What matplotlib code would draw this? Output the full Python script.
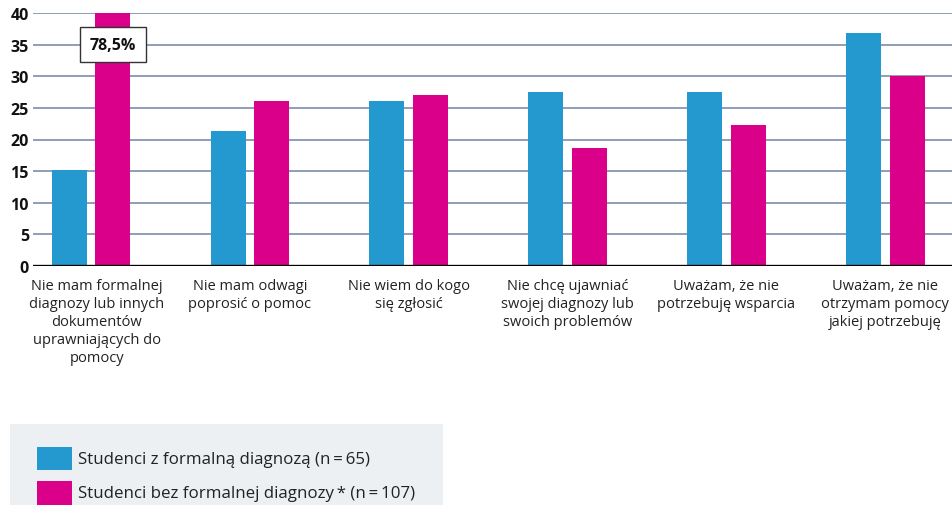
import matplotlib
matplotlib.use("Agg")
import matplotlib.pyplot as plt
import matplotlib.transforms as mtransforms
import numpy as np
from matplotlib.patches import Rectangle

plt.rcParams['font.family'] = ['Open Sans', 'DejaVu Sans']

categories = [
    "Nie mam formalnej\ndiagnozy lub innych\ndokumentów\nuprawniających do\npomocy",
    "Nie mam odwagi\npoprosić o pomoc",
    "Nie wiem do kogo\nsię zgłosić",
    "Nie chcę ujawniać\nswojej diagnozy lub\nswoich problemów",
    "Uważam, że nie\npotrzebuję wsparcia",
    "Uważam, że nie\notrzymam pomocy\njakiej potrzebuję",
]
series_names = ["Studenci z formalną diagnozą (n\u2009=\u200965)",
                "Studenci bez formalnej diagnozy\u2009* (n\u2009=\u2009107)"]
with_diag = [15.2, 21.4, 26.1, 27.6, 27.6, 36.9]
without_diag = [78.5, 26.1, 27.1, 18.7, 22.3, 30.0]
yticks = [0, 5, 10, 15, 20, 25, 30, 35, 40]

blue = "#2499cf"
pink = "#db0089"

fig = plt.figure(figsize=(9.52, 5.06), dpi=100)
ax = fig.add_axes([33/952, 1 - 266.7/506, 1 - 33/952, (266.7 - 14.3)/506])

x = np.arange(len(categories))
w = 0.22
off = 0.137
ax.bar(x - off, with_diag, width=w, color=blue, zorder=3)
ax.bar(x + off, without_diag, width=w, color=pink, zorder=3)

ax.set_ylim(0, 40)
ax.set_xlim(-0.365, len(categories) - 1 + 0.42)
ax.set_yticks(yticks)
ax.set_yticklabels([str(t) for t in yticks], fontweight='bold', fontsize=11.5, color='#111111')
for t in yticks[1:]:
    ax.axhline(t, color='#8795b2', lw=1.3, zorder=1)
ax.axhline(0, color='black', lw=2.4, zorder=4)

ax.set_xticks(x)
ax.set_xticklabels(categories, fontsize=10.5, color='#222222', linespacing=1.27, va='top')
ax.tick_params(axis='both', length=0)
ax.tick_params(axis='x', pad=9)
ax.tick_params(axis='y', pad=3)
for s in ax.spines.values():
    s.set_visible(False)

# first label sits slightly right of its group centre
lbl0 = ax.get_xticklabels()[0]
lbl0.set_transform(lbl0.get_transform() + mtransforms.ScaledTranslation(6/100, 0, fig.dpi_scale_trans))

# annotation for clipped bar
v = without_diag[0]
ax.text(x[0] + off, 35.0, f"{v:.1f}".replace('.', ',') + "%", ha='center', va='center',
        fontsize=11.5, fontweight='bold', color='#111111', zorder=6,
        bbox=dict(boxstyle='square,pad=0.6', fc='white', ec='#333333', lw=1.0))

# legend panel
fig.patches.append(Rectangle((10/952, 0), 433/952, 1 - 425/506, transform=fig.transFigure,
                             facecolor='#ecf0f3', edgecolor='none', zorder=0))
fig.patches.append(Rectangle((37/952, 1 - 471/506), 35/952, 23/506, transform=fig.transFigure,
                             facecolor=blue, edgecolor='none', zorder=1))
fig.patches.append(Rectangle((37/952, 0), 35/952, 24/506, transform=fig.transFigure,
                             facecolor=pink, edgecolor='none', zorder=1))
fig.text(78/952, 1 - 460/506, series_names[0], fontsize=12.2, color='#222222', va='center', ha='left')
fig.text(78/952, 1 - 494/506, series_names[1], fontsize=12.2, color='#222222', va='center', ha='left')

fig.savefig("out.png", dpi=100)
